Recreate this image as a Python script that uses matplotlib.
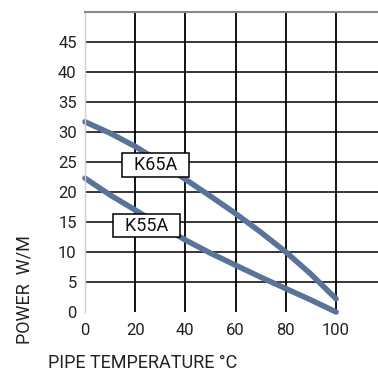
import matplotlib
matplotlib.use("Agg")
import matplotlib.pyplot as plt

temps = [0, 10, 20, 30, 40, 50, 60, 70, 80, 90, 100]
k65a = [31.7, 29.8, 27.6, 25.0, 22.1, 19.3, 16.4, 13.3, 10.0, 6.3, 2.2]
k55a = [22.3, 19.5, 17.0, 14.4, 12.0, 9.8, 7.8, 5.8, 3.9, 2.0, 0.0]
xticks = [0, 20, 40, 60, 80, 100]
yticks = [0, 5, 10, 15, 20, 25, 30, 35, 40, 45]

plt.rcParams['font.family'] = ['Roboto', 'DejaVu Sans']

fig = plt.figure(figsize=(3.78, 3.71), dpi=100)
ax = fig.add_axes([85/378, 59/371, 1 - 85/378, 300/371])
ax.set_xlim(0, 116.7)
ax.set_ylim(0.4, 50)

for x in xticks[1:]:
    ax.axvline(x, color='black', lw=1.3, zorder=1)
for y in yticks[1:]:
    ax.axhline(y, color='black', lw=1.1, zorder=1)

col = '#5a7499'
ax.plot(temps, k65a, color=col, lw=4, solid_capstyle='round', clip_on=False, zorder=2)
ax.plot(temps, k55a, color=col, lw=4, solid_capstyle='round', clip_on=False, zorder=2)

box = dict(boxstyle='square,pad=0.15', facecolor='white', edgecolor='black', lw=1.1)
ax.text(28.1, 24.5, '  K65A  ', fontsize=13, ha='center', va='center', bbox=box, zorder=3, color='#111111')
ax.text(24.6, 14.4, '  K55A  ', fontsize=13, ha='center', va='center', bbox=box, zorder=3, color='#111111')

ax.set_xticks(xticks)
ax.set_yticks(yticks)
ax.tick_params(length=0, labelsize=12, colors='#222222', pad=6)
ax.tick_params(axis='x', pad=8)

for s in ['right', 'bottom']:
    ax.spines[s].set_visible(False)
ax.spines['left'].set_color('#d0d0d0')
ax.spines['left'].set_linewidth(1.0)
ax.spines['top'].set_color('#888888')
ax.spines['top'].set_linewidth(1.5)

fig.text(25/378, 1 - 290/371, 'POWER  W/M', rotation=90, ha='center', va='center', fontsize=13, color='#222222')
fig.text(48/378, 1 - 363/371, 'PIPE TEMPERATURE °C', ha='left', va='center', fontsize=13, color='#222222')

fig.savefig('out.png', dpi=100)
